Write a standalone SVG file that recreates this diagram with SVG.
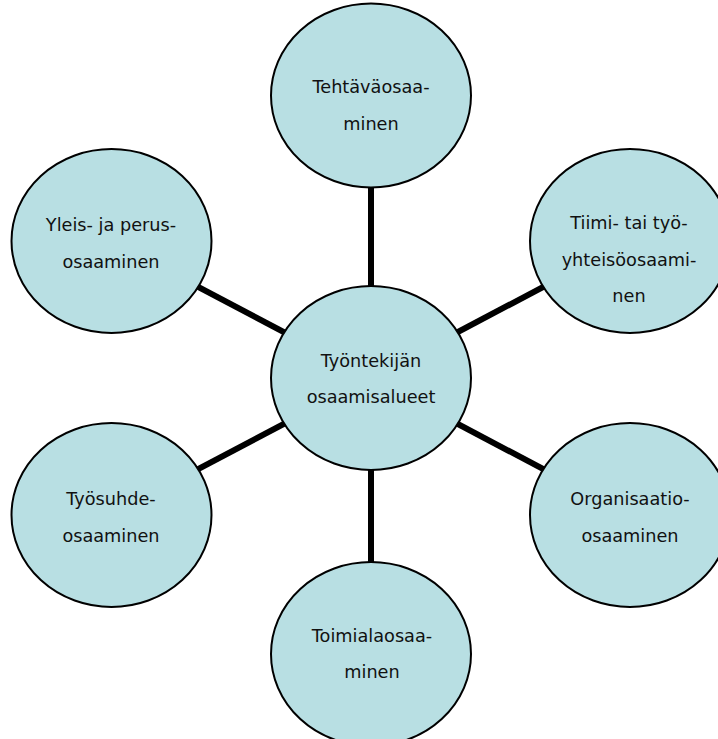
<svg xmlns="http://www.w3.org/2000/svg" width="718" height="739" viewBox="0 0 718 739">
<style>
.n{fill:#b8dfe3;stroke:#000;stroke-width:2}
.c{stroke:#000;stroke-width:6;fill:none}
text{font-family:"DejaVu Sans","Open Sans",sans-serif;font-size:17.7px;fill:#111;text-anchor:middle}
</style>
<rect width="718" height="739" fill="#fff"/>
<g id="connectors">
<line class="c" x1="371" y1="378" x2="371" y2="95"/>
<line class="c" x1="371" y1="378" x2="371" y2="654"/>
<line class="c" x1="371" y1="378" x2="111" y2="241"/>
<line class="c" x1="371" y1="378" x2="630" y2="241"/>
<line class="c" x1="371" y1="378" x2="111" y2="515"/>
<line class="c" x1="371" y1="378" x2="630" y2="515"/>
</g>
<g id="center">
<ellipse class="n" cx="371" cy="378" rx="100" ry="92"/>
<text x="371" y="367">Työntekijän</text>
<text x="371" y="403">osaamisalueet</text>
</g>
<g id="tehtava">
<ellipse class="n" cx="371" cy="95.5" rx="100" ry="92"/>
<text x="371" y="93">Tehtäväosaa-</text>
<text x="371" y="130">minen</text>
</g>
<g id="yleis">
<ellipse class="n" cx="111.5" cy="241" rx="100" ry="92"/>
<text x="111" y="231">Yleis- ja perus-</text>
<text x="111" y="268">osaaminen</text>
</g>
<g id="tiimi">
<ellipse class="n" cx="630" cy="241" rx="100" ry="92"/>
<text x="629" y="229">Tiimi- tai työ-</text>
<text x="629" y="266">yhteisöosaami-</text>
<text x="629" y="302">nen</text>
</g>
<g id="tyosuhde">
<ellipse class="n" cx="111.5" cy="515" rx="100" ry="92"/>
<text x="111" y="505">Työsuhde-</text>
<text x="111" y="542">osaaminen</text>
</g>
<g id="organisaatio">
<ellipse class="n" cx="630" cy="515" rx="100" ry="92"/>
<text x="630" y="505">Organisaatio-</text>
<text x="630" y="542">osaaminen</text>
</g>
<g id="toimiala">
<ellipse class="n" cx="371" cy="654" rx="100" ry="92"/>
<text x="372" y="642">Toimialaosaa-</text>
<text x="372" y="678">minen</text>
</g>
</svg>
